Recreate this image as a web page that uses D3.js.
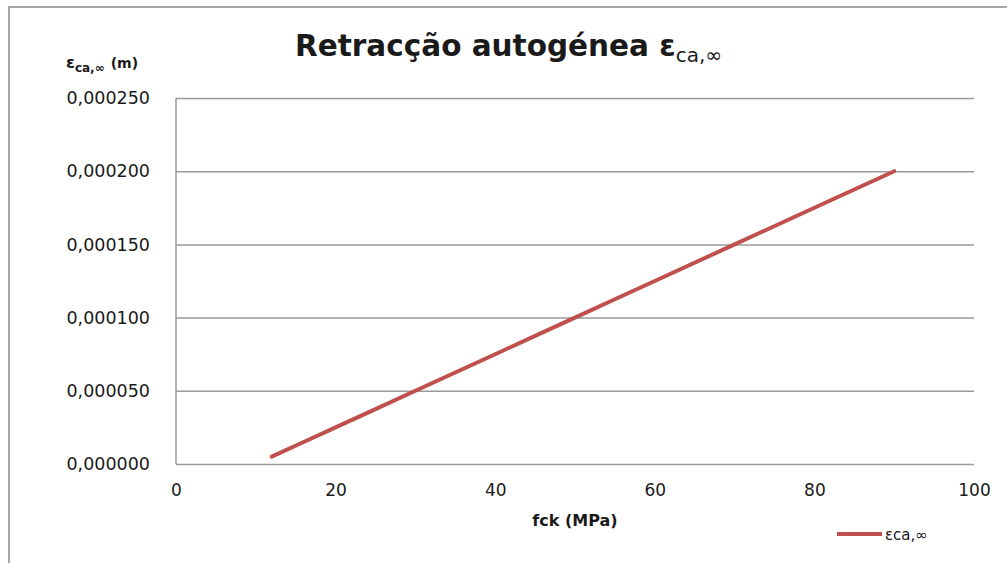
<!DOCTYPE html>
<html>
<head>
<meta charset="utf-8">
<script src="https://cdn.jsdelivr.net/npm/d3@7"></script>
<style>
  body { margin: 0; background: #fff; }
  svg text { font-family: "DejaVu Sans", sans-serif; fill: #1a1a1a; }
</style>
</head>
<body>
<svg id="chart"></svg>
<script>
const width = 1007;
const height = 563;

// data
const fck = [12, 16, 20, 25, 30, 35, 40, 45, 50, 55, 60, 70, 80, 90];
const epsCa = [0.000005, 0.000015, 0.000025, 0.0000375, 0.00005, 0.0000625, 0.000075,
               0.0000875, 0.0001, 0.0001125, 0.000125, 0.00015, 0.000175, 0.0002];
const xTicks = [0, 20, 40, 60, 80, 100];
const yTicks = [0, 0.00005, 0.0001, 0.00015, 0.0002, 0.00025];

const plot = {left: 176, right: 974, top: 98, bottom: 464};
const red = '#c0504d';
const grey = '#9a9a9a';

const svg = d3.select('#chart')
            .attr('width', width)
            .attr('height', height);

// outer chart frame (only left and top edges visible)
svg.append('path')
    .attr('d', `M9,${height} V7 H${width}`)
    .attr('fill', 'none')
    .attr('stroke', '#a6a6a6')
    .attr('stroke-width', 2);

const x = d3.scaleLinear().domain([0, 100]).range([plot.left, plot.right]);
const y = d3.scaleLinear().domain([0, 0.00025]).range([plot.bottom, plot.top]);

const pt = d3.formatLocale({decimal: ',', thousands: '.', grouping: [3], currency: ['', '']});
const yFmt = pt.format('.6f');

// grid lines
const yAxis = svg.append('g')
    .attr('transform', `translate(${plot.left},0)`)
    .call(d3.axisLeft(y).tickValues(yTicks).tickFormat(yFmt)
        .tickSize(-(plot.right - plot.left)).tickPadding(26));
yAxis.select('.domain').remove();
yAxis.selectAll('line').attr('stroke', grey).attr('stroke-width', 1.5);
yAxis.selectAll('text').attr('font-size', 17.5).attr('fill', '#1a1a1a')
    .attr('font-family', '"DejaVu Sans", sans-serif');

// left plot border
svg.append('line')
    .attr('x1', plot.left).attr('x2', plot.left)
    .attr('y1', plot.top).attr('y2', plot.bottom)
    .attr('stroke', grey).attr('stroke-width', 1.5);

const xAxis = svg.append('g')
    .attr('transform', `translate(0,${plot.bottom})`)
    .call(d3.axisBottom(x).tickValues(xTicks).tickSize(0).tickPadding(20));
xAxis.select('.domain').remove();
xAxis.selectAll('text').attr('font-size', 17).attr('fill', '#1a1a1a')
    .attr('font-family', '"DejaVu Sans", sans-serif');

// series
const line = d3.line().x((d, i) => x(fck[i])).y(d => y(d));
svg.append('path')
    .datum(epsCa)
    .attr('d', line)
    .attr('fill', 'none')
    .attr('stroke', red)
    .attr('stroke-width', 4)
    .attr('stroke-linecap', 'round');

// title
const title = svg.append('text')
    .attr('x', 295).attr('y', 56)
    .attr('font-size', 29.5).attr('font-weight', 'bold');
title.append('tspan').text('Retracção autogénea ε');
title.append('tspan').attr('font-size', 20).attr('font-weight', 'normal')
    .attr('dy', 6).text('ca,∞');

// y axis title
const yTitle = svg.append('text')
    .attr('x', 66).attr('y', 68)
    .attr('font-size', 16).attr('font-weight', 'bold');
yTitle.append('tspan').text('ε');
yTitle.append('tspan').attr('font-size', 12).attr('dy', 4).text('ca,∞');
yTitle.append('tspan').attr('font-size', 14).attr('dy', -4).attr('dx', 6).text('(m)');

// x axis title
svg.append('text')
    .attr('x', (plot.left + plot.right) / 2).attr('y', 526)
    .attr('text-anchor', 'middle')
    .attr('font-size', 16).attr('font-weight', 'bold')
    .text('fck (MPa)');

// legend
svg.append('line')
    .attr('x1', 837).attr('x2', 882)
    .attr('y1', 534).attr('y2', 534)
    .attr('stroke', red).attr('stroke-width', 4);
svg.append('text')
    .attr('x', 885).attr('y', 540)
    .attr('font-size', 15)
    .text('εca,∞');
</script>
</body>
</html>
